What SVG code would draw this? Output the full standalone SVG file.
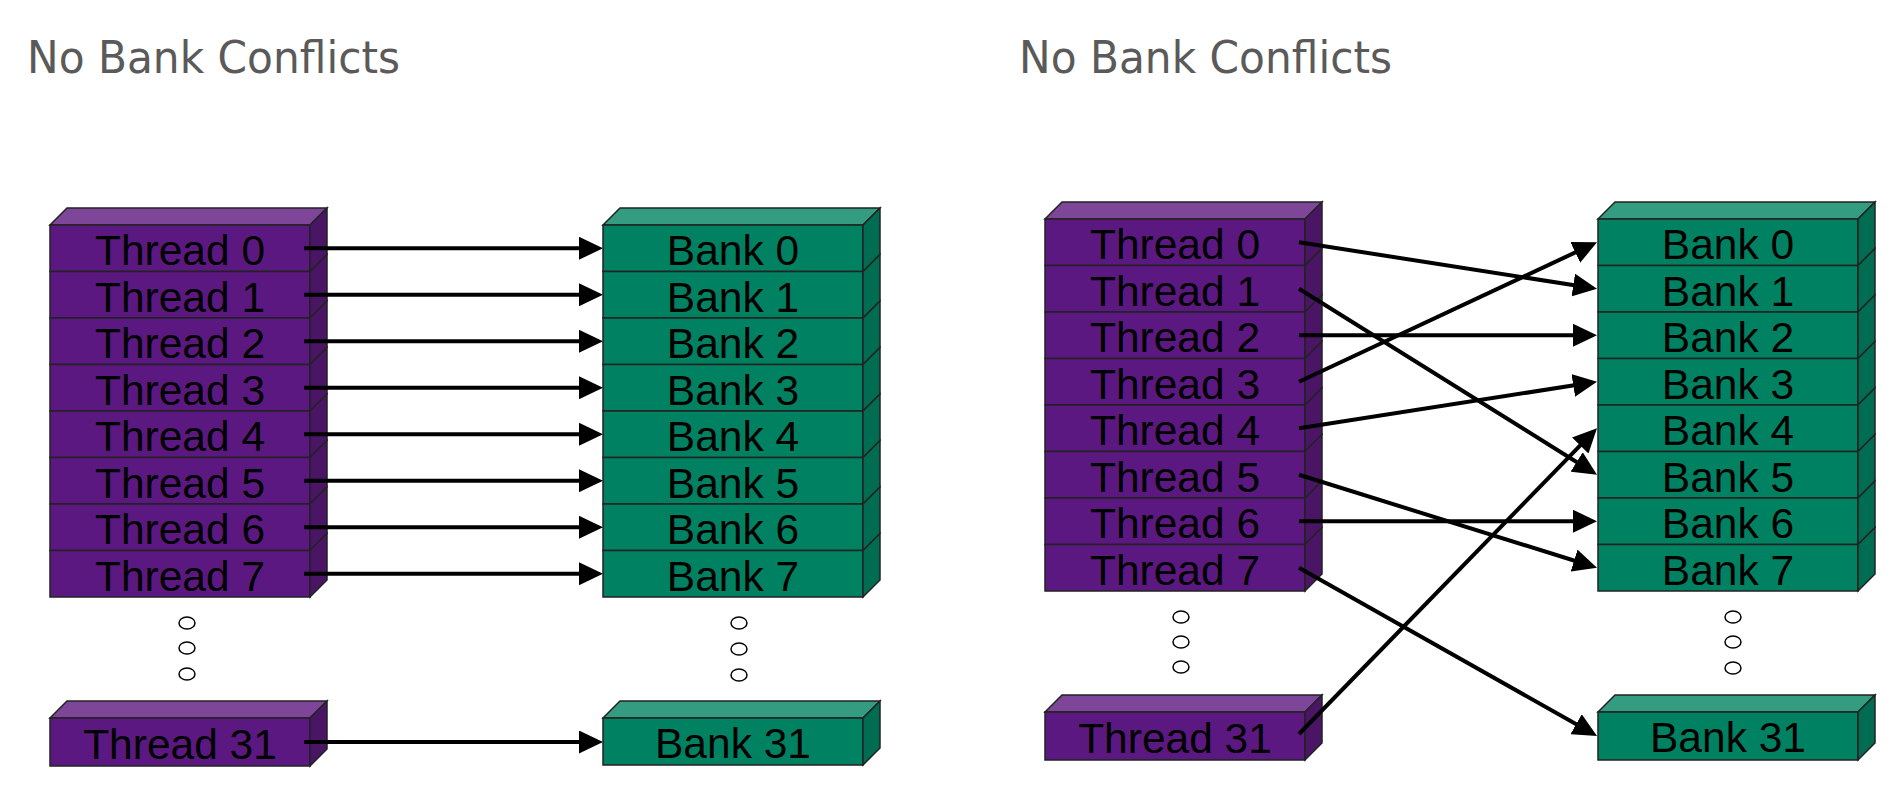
<svg xmlns="http://www.w3.org/2000/svg" width="1903" height="805" viewBox="0 0 1903 805">
<defs>
<style>
.title{font-family:"DejaVu Sans",Verdana,sans-serif;font-size:44px;fill:#5a5a5a}
.lbl{font-family:"Liberation Sans",Arial,sans-serif;font-size:42.5px;fill:#000;text-anchor:middle}
.tf{fill:#5c1881;stroke:#222;stroke-width:1.5}
.tt{fill:#7d4698;stroke:#222;stroke-width:1.5}
.ts{fill:#4b1566;stroke:#222;stroke-width:1.5}
.bf{fill:#008262;stroke:#222;stroke-width:1.5}
.bt{fill:#339c81;stroke:#222;stroke-width:1.5}
.bs{fill:#006c51;stroke:#222;stroke-width:1.5}
.dot{fill:#fff;stroke:#000;stroke-width:1.5}
.conn line{stroke:#000;stroke-width:4;marker-end:url(#ah)}
</style>
<marker id="ah" markerUnits="userSpaceOnUse" markerWidth="24" markerHeight="23" viewBox="0 0 24 23" refX="14" refY="11.5" orient="auto">
<path d="M0,0 L24,11.5 L0,23 z" fill="#000"/>
</marker>
</defs>
<rect width="1903" height="805" fill="#fff"/>
<text class="title" x="27" y="73" textLength="373" lengthAdjust="spacingAndGlyphs">No Bank Conflicts</text>
<text class="title" x="1019" y="73" textLength="373" lengthAdjust="spacingAndGlyphs">No Bank Conflicts</text>

<!-- LEFT: threads -->
<g id="left-threads">
<polygon class="tt" points="50,225 67,208 327,208 310,225"/>
<g id="lt0"><rect class="tf" x="50" y="225" width="260" height="46.5"/><polygon class="ts" points="310,225 327,208 327,254.5 310,271.5"/><text class="lbl" x="180" y="265">Thread 0</text></g>
<g id="lt1"><rect class="tf" x="50" y="271.5" width="260" height="46.5"/><polygon class="ts" points="310,271.5 327,254.5 327,301 310,318"/><text class="lbl" x="180" y="311.5">Thread 1</text></g>
<g id="lt2"><rect class="tf" x="50" y="318" width="260" height="46.5"/><polygon class="ts" points="310,318 327,301 327,347.5 310,364.5"/><text class="lbl" x="180" y="358">Thread 2</text></g>
<g id="lt3"><rect class="tf" x="50" y="364.5" width="260" height="46.5"/><polygon class="ts" points="310,364.5 327,347.5 327,394 310,411"/><text class="lbl" x="180" y="404.5">Thread 3</text></g>
<g id="lt4"><rect class="tf" x="50" y="411" width="260" height="46.5"/><polygon class="ts" points="310,411 327,394 327,440.5 310,457.5"/><text class="lbl" x="180" y="451">Thread 4</text></g>
<g id="lt5"><rect class="tf" x="50" y="457.5" width="260" height="46.5"/><polygon class="ts" points="310,457.5 327,440.5 327,487 310,504"/><text class="lbl" x="180" y="497.5">Thread 5</text></g>
<g id="lt6"><rect class="tf" x="50" y="504" width="260" height="46.5"/><polygon class="ts" points="310,504 327,487 327,533.5 310,550.5"/><text class="lbl" x="180" y="544">Thread 6</text></g>
<g id="lt7"><rect class="tf" x="50" y="550.5" width="260" height="46.5"/><polygon class="ts" points="310,550.5 327,533.5 327,580 310,597"/><text class="lbl" x="180" y="590.5">Thread 7</text></g>
</g>
<g id="left-thread-dots"><ellipse class="dot" cx="187" cy="623" rx="8" ry="6"/><ellipse class="dot" cx="187" cy="648" rx="8" ry="6"/><ellipse class="dot" cx="187" cy="674" rx="8" ry="6"/></g>
<g id="lt31">
<polygon class="tt" points="50,718 67,701 327,701 310,718"/>
<rect class="tf" x="50" y="718" width="260" height="48"/><polygon class="ts" points="310,718 327,701 327,749 310,766"/>
<text class="lbl" x="180" y="759">Thread 31</text>
</g>

<!-- LEFT: banks -->
<g id="left-banks">
<polygon class="bt" points="603,225 620,208 880,208 863,225"/>
<g id="lb0"><rect class="bf" x="603" y="225" width="260" height="46.5"/><polygon class="bs" points="863,225 880,208 880,254.5 863,271.5"/><text class="lbl" x="733" y="265">Bank 0</text></g>
<g id="lb1"><rect class="bf" x="603" y="271.5" width="260" height="46.5"/><polygon class="bs" points="863,271.5 880,254.5 880,301 863,318"/><text class="lbl" x="733" y="311.5">Bank 1</text></g>
<g id="lb2"><rect class="bf" x="603" y="318" width="260" height="46.5"/><polygon class="bs" points="863,318 880,301 880,347.5 863,364.5"/><text class="lbl" x="733" y="358">Bank 2</text></g>
<g id="lb3"><rect class="bf" x="603" y="364.5" width="260" height="46.5"/><polygon class="bs" points="863,364.5 880,347.5 880,394 863,411"/><text class="lbl" x="733" y="404.5">Bank 3</text></g>
<g id="lb4"><rect class="bf" x="603" y="411" width="260" height="46.5"/><polygon class="bs" points="863,411 880,394 880,440.5 863,457.5"/><text class="lbl" x="733" y="451">Bank 4</text></g>
<g id="lb5"><rect class="bf" x="603" y="457.5" width="260" height="46.5"/><polygon class="bs" points="863,457.5 880,440.5 880,487 863,504"/><text class="lbl" x="733" y="497.5">Bank 5</text></g>
<g id="lb6"><rect class="bf" x="603" y="504" width="260" height="46.5"/><polygon class="bs" points="863,504 880,487 880,533.5 863,550.5"/><text class="lbl" x="733" y="544">Bank 6</text></g>
<g id="lb7"><rect class="bf" x="603" y="550.5" width="260" height="46.5"/><polygon class="bs" points="863,550.5 880,533.5 880,580 863,597"/><text class="lbl" x="733" y="590.5">Bank 7</text></g>
</g>
<g id="left-bank-dots"><ellipse class="dot" cx="739" cy="623" rx="8" ry="6"/><ellipse class="dot" cx="739" cy="649" rx="8" ry="6"/><ellipse class="dot" cx="739" cy="675" rx="8" ry="6"/></g>
<g id="lb31">
<polygon class="bt" points="603,718 620,701 880,701 863,718"/>
<rect class="bf" x="603" y="718" width="260" height="47"/><polygon class="bs" points="863,718 880,701 880,748 863,765"/>
<text class="lbl" x="733" y="758">Bank 31</text>
</g>

<!-- RIGHT: threads -->
<g id="right-threads">
<polygon class="tt" points="1045,219 1062,202 1322,202 1305,219"/>
<g id="rt0"><rect class="tf" x="1045" y="219" width="260" height="46.5"/><polygon class="ts" points="1305,219 1322,202 1322,248.5 1305,265.5"/><text class="lbl" x="1175" y="259">Thread 0</text></g>
<g id="rt1"><rect class="tf" x="1045" y="265.5" width="260" height="46.5"/><polygon class="ts" points="1305,265.5 1322,248.5 1322,295 1305,312"/><text class="lbl" x="1175" y="305.5">Thread 1</text></g>
<g id="rt2"><rect class="tf" x="1045" y="312" width="260" height="46.5"/><polygon class="ts" points="1305,312 1322,295 1322,341.5 1305,358.5"/><text class="lbl" x="1175" y="352">Thread 2</text></g>
<g id="rt3"><rect class="tf" x="1045" y="358.5" width="260" height="46.5"/><polygon class="ts" points="1305,358.5 1322,341.5 1322,388 1305,405"/><text class="lbl" x="1175" y="398.5">Thread 3</text></g>
<g id="rt4"><rect class="tf" x="1045" y="405" width="260" height="46.5"/><polygon class="ts" points="1305,405 1322,388 1322,434.5 1305,451.5"/><text class="lbl" x="1175" y="445">Thread 4</text></g>
<g id="rt5"><rect class="tf" x="1045" y="451.5" width="260" height="46.5"/><polygon class="ts" points="1305,451.5 1322,434.5 1322,481 1305,498"/><text class="lbl" x="1175" y="491.5">Thread 5</text></g>
<g id="rt6"><rect class="tf" x="1045" y="498" width="260" height="46.5"/><polygon class="ts" points="1305,498 1322,481 1322,527.5 1305,544.5"/><text class="lbl" x="1175" y="538">Thread 6</text></g>
<g id="rt7"><rect class="tf" x="1045" y="544.5" width="260" height="46.5"/><polygon class="ts" points="1305,544.5 1322,527.5 1322,574 1305,591"/><text class="lbl" x="1175" y="584.5">Thread 7</text></g>
</g>
<g id="right-thread-dots"><ellipse class="dot" cx="1181" cy="617" rx="8" ry="6"/><ellipse class="dot" cx="1181" cy="642" rx="8" ry="6"/><ellipse class="dot" cx="1181" cy="667" rx="8" ry="6"/></g>
<g id="rt31">
<polygon class="tt" points="1045,712 1062,695 1322,695 1305,712"/>
<rect class="tf" x="1045" y="712" width="260" height="48"/><polygon class="ts" points="1305,712 1322,695 1322,743 1305,760"/>
<text class="lbl" x="1175" y="753">Thread 31</text>
</g>

<!-- RIGHT: banks -->
<g id="right-banks">
<polygon class="bt" points="1598,219 1615,202 1875,202 1858,219"/>
<g id="rb0"><rect class="bf" x="1598" y="219" width="260" height="46.5"/><polygon class="bs" points="1858,219 1875,202 1875,248.5 1858,265.5"/><text class="lbl" x="1728" y="259">Bank 0</text></g>
<g id="rb1"><rect class="bf" x="1598" y="265.5" width="260" height="46.5"/><polygon class="bs" points="1858,265.5 1875,248.5 1875,295 1858,312"/><text class="lbl" x="1728" y="305.5">Bank 1</text></g>
<g id="rb2"><rect class="bf" x="1598" y="312" width="260" height="46.5"/><polygon class="bs" points="1858,312 1875,295 1875,341.5 1858,358.5"/><text class="lbl" x="1728" y="352">Bank 2</text></g>
<g id="rb3"><rect class="bf" x="1598" y="358.5" width="260" height="46.5"/><polygon class="bs" points="1858,358.5 1875,341.5 1875,388 1858,405"/><text class="lbl" x="1728" y="398.5">Bank 3</text></g>
<g id="rb4"><rect class="bf" x="1598" y="405" width="260" height="46.5"/><polygon class="bs" points="1858,405 1875,388 1875,434.5 1858,451.5"/><text class="lbl" x="1728" y="445">Bank 4</text></g>
<g id="rb5"><rect class="bf" x="1598" y="451.5" width="260" height="46.5"/><polygon class="bs" points="1858,451.5 1875,434.5 1875,481 1858,498"/><text class="lbl" x="1728" y="491.5">Bank 5</text></g>
<g id="rb6"><rect class="bf" x="1598" y="498" width="260" height="46.5"/><polygon class="bs" points="1858,498 1875,481 1875,527.5 1858,544.5"/><text class="lbl" x="1728" y="538">Bank 6</text></g>
<g id="rb7"><rect class="bf" x="1598" y="544.5" width="260" height="46.5"/><polygon class="bs" points="1858,544.5 1875,527.5 1875,574 1858,591"/><text class="lbl" x="1728" y="584.5">Bank 7</text></g>
</g>
<g id="right-bank-dots"><ellipse class="dot" cx="1733" cy="617" rx="8" ry="6"/><ellipse class="dot" cx="1733" cy="642" rx="8" ry="6"/><ellipse class="dot" cx="1733" cy="668" rx="8" ry="6"/></g>
<g id="rb31">
<polygon class="bt" points="1598,712 1615,695 1875,695 1858,712"/>
<rect class="bf" x="1598" y="712" width="260" height="48"/><polygon class="bs" points="1858,712 1875,695 1875,743 1858,760"/>
<text class="lbl" x="1728" y="752">Bank 31</text>
</g>

<!-- connectors -->
<g id="connectors" class="conn">
<line x1="304" y1="248.25" x2="593" y2="248.25"/>
<line x1="304" y1="294.75" x2="593" y2="294.75"/>
<line x1="304" y1="341.25" x2="593" y2="341.25"/>
<line x1="304" y1="387.75" x2="593" y2="387.75"/>
<line x1="304" y1="434.25" x2="593" y2="434.25"/>
<line x1="304" y1="480.75" x2="593" y2="480.75"/>
<line x1="304" y1="527.25" x2="593" y2="527.25"/>
<line x1="304" y1="573.75" x2="593" y2="573.75"/>
<line x1="304" y1="742" x2="593" y2="742"/>

<line x1="1299" y1="242.25" x2="1587.12" y2="287.21"/>
<line x1="1299" y1="288.75" x2="1588.52" y2="469.45"/>
<line x1="1299" y1="335.25" x2="1587" y2="335.25"/>
<line x1="1299" y1="381.75" x2="1587.94" y2="246.49"/>
<line x1="1299" y1="428.25" x2="1587.12" y2="383.29"/>
<line x1="1299" y1="474.75" x2="1587.45" y2="564.77"/>
<line x1="1299" y1="521.25" x2="1587" y2="521.25"/>
<line x1="1299" y1="567.75" x2="1588.29" y2="731.08"/>
<line x1="1299" y1="734" x2="1590.02" y2="435.41"/>
</g>
</svg>
